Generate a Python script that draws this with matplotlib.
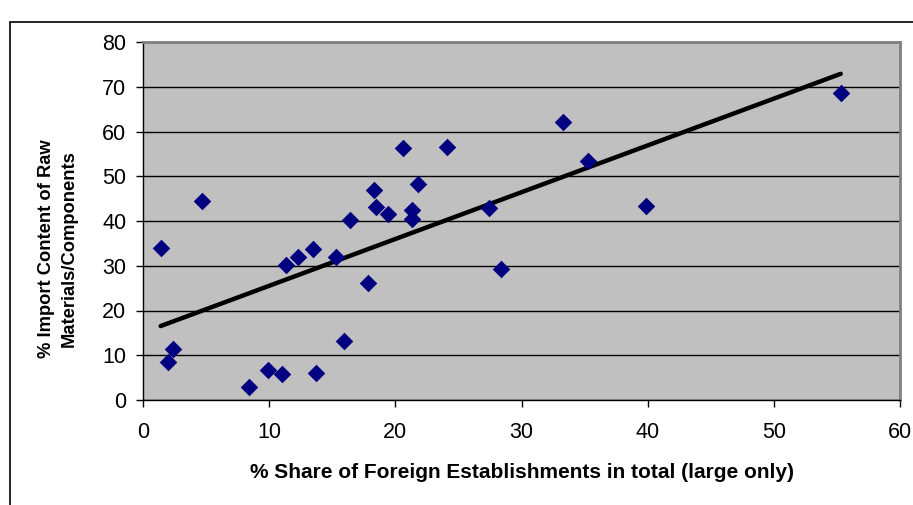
import numpy as np
import matplotlib.pyplot as plt
from matplotlib.patches import Rectangle

plt.rcParams['font.family'] = ['Liberation Sans', 'DejaVu Sans']

# % share of foreign establishments (large only)
foreign_share = [1.4, 2.0, 2.4, 4.7, 8.4, 9.9, 11.0, 11.3, 12.3, 13.5,
                 13.7, 15.3, 15.9, 16.4, 17.8, 18.3, 18.5, 19.4, 20.6, 21.3,
                 21.3, 21.8, 24.1, 27.4, 28.4, 33.3, 35.3, 39.9, 55.3]
# % import content of raw materials / components
import_content = [34.0, 8.5, 11.4, 44.5, 2.9, 6.7, 5.8, 30.2, 32.0, 33.7,
                  6.0, 32.0, 13.2, 40.2, 26.1, 46.9, 43.1, 41.5, 56.3, 42.5,
                  40.4, 48.3, 56.5, 42.9, 29.3, 62.1, 53.4, 43.4, 68.6]

x = np.array(foreign_share)
y = np.array(import_content)

W, H = 913, 505
fig = plt.figure(figsize=(W/100, H/100), dpi=100)
ax = fig.add_axes([143/W, 1-400/H, (900-143)/W, (400-42)/H])

# outer chart border
fig.patches.append(Rectangle((10/W, -0.1), 1.1, 1.1 - 22/H,
                             transform=fig.transFigure, fill=False,
                             edgecolor='black', linewidth=1.2))

ax.set_facecolor('#C0C0C0')
ax.set_xlim(0, 60)
ax.set_ylim(0, 80)
ax.set_xticks(np.arange(0, 61, 10))
ax.set_yticks(np.arange(0, 81, 10))
ax.grid(axis='y', color='black', linewidth=1.0)
ax.set_axisbelow(True)

for s in ['top', 'right']:
    ax.spines[s].set_color('#808080')
    ax.spines[s].set_linewidth(2)
for s in ['left', 'bottom']:
    ax.spines[s].set_color('black')
    ax.spines[s].set_linewidth(1)

ax.tick_params(direction='out', length=5, width=1, labelsize=15.5)
ax.tick_params(axis='x', pad=11)
ax.tick_params(axis='y', pad=7)

# linear trend line
k, b = np.polyfit(x, y, 1)
xt = np.array([x.min(), x.max()])
ax.plot(xt, k*xt + b, color='black', linewidth=3.2, solid_capstyle='round', zorder=3)

ax.scatter(x, y, marker='D', s=80, color='#000080', zorder=4, linewidths=0)

ax.set_xlabel('% Share of Foreign Establishments in total (large only)',
              fontsize=15, fontweight='bold', va='center')
ax.xaxis.set_label_coords(0.5, -(472-400)/358)
ax.set_ylabel('% Import Content of Raw\nMaterials/Components',
              fontsize=13.2, fontweight='bold', va='center', linespacing=1.45)
ax.yaxis.set_label_coords((57.5-143)/757, (400-249)/358)

fig.savefig('out.png', dpi=100)
